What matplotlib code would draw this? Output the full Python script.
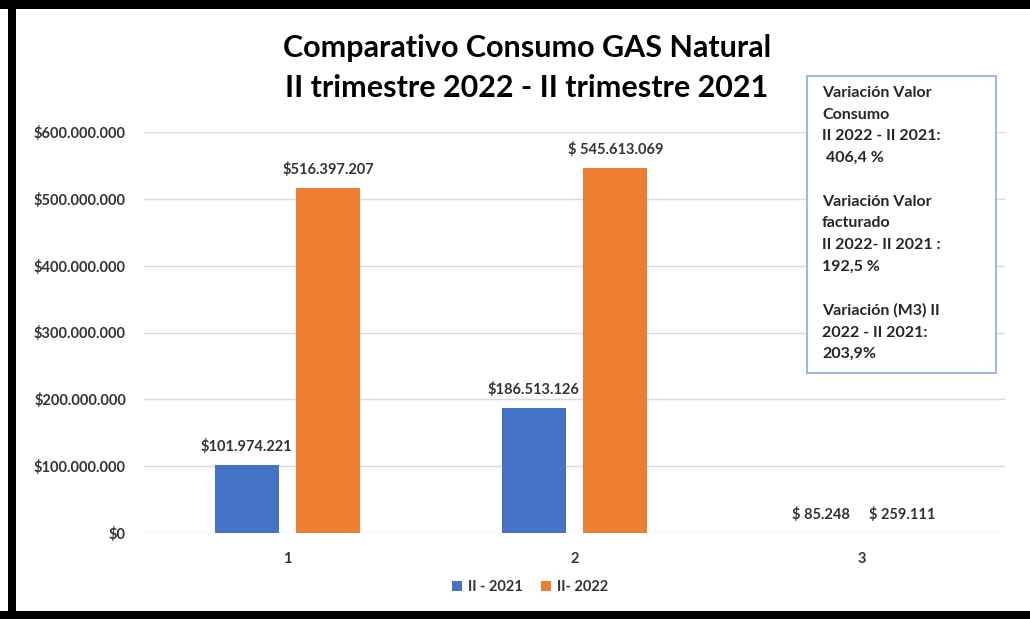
import matplotlib
matplotlib.use("Agg")
import matplotlib.pyplot as plt
from matplotlib.patches import Rectangle
from matplotlib.ticker import FuncFormatter
import numpy as np

# quarterly natural gas consumption values (COP)
categories = ["1", "2", "3"]
series_names = ["II - 2021", "II- 2022"]
values_2021 = [101974221, 186513126, 85248]
values_2022 = [516397207, 545613069, 259111]
labels_2021 = ["$101.974.221", "$186.513.126", "$ 85.248"]
labels_2022 = ["$516.397.207", "$ 545.613.069", "$ 259.111"]
yticks = [0, 100e6, 200e6, 300e6, 400e6, 500e6, 600e6]

title = "Comparativo Consumo GAS Natural\nII trimestre 2022 - II trimestre 2021"
note = ("Variación Valor\nConsumo\nII 2022 - II 2021:\n 406,4 %\n\n"
        "Variación Valor\nfacturado\nII 2022- II 2021 :\n192,5 %\n\n"
        "Variación (M3) II\n2022 - II 2021:\n203,9%")

BLUE = "#4472C4"
ORANGE = "#ED7D31"
TXT = "#333333"
plt.rcParams["font.family"] = ["Lato", "DejaVu Sans"]

W, H = 1030, 619
fig = plt.figure(figsize=(W / 100, H / 100), dpi=100)
fig.patch.set_facecolor("white")


def fx(px):
    return px / W


def fy(py):
    return 1 - py / H


ax = fig.add_axes([fx(144), fy(533), fx(1005) - fx(144), fy(132) - fy(533)])
x = np.arange(len(categories))
off, bw = 0.142, 0.222
b1 = ax.bar(x - off, values_2021, bw, color=BLUE, label=series_names[0], zorder=3)
b2 = ax.bar(x + off, values_2022, bw, color=ORANGE, label=series_names[1], zorder=3)

for bars, labs in [(b1, labels_2021), (b2, labels_2022)]:
    for rect, lab in zip(bars, labs):
        ax.annotate(lab, (rect.get_x() + rect.get_width() / 2, rect.get_height()),
                    xytext=(0, 8), textcoords="offset points", ha="center", va="bottom",
                    fontsize=10.5, fontweight="bold", color=TXT)

ax.set_xlim(-0.5, 2.5)
ax.set_ylim(0, 600e6)
ax.set_yticks(yticks)
ax.yaxis.set_major_formatter(FuncFormatter(lambda v, _: "$" + f"{int(v):,}".replace(",", ".")))
ax.set_xticks(x)
ax.set_xticklabels(categories)
for lab in ax.get_xticklabels() + ax.get_yticklabels():
    lab.set_fontweight("bold")
    lab.set_color(TXT)
    lab.set_fontsize(10.5)
ax.tick_params(length=0, pad=14)
ax.tick_params(axis="y", pad=13)
ax.grid(axis="y", color="#D9D9D9", linewidth=1, zorder=0)
for s in ax.spines.values():
    s.set_visible(False)

fig.text(fx(527), fy(68), title, ha="center", va="center", fontsize=22,
         fontweight="bold", color="black", linespacing=1.5)

leg = fig.legend(handles=[b1, b2], loc="center", bbox_to_anchor=(fx(530), fy(587)),
                 ncol=2, frameon=False, handlelength=0.7, handleheight=0.7,
                 columnspacing=1.2, handletextpad=0.4, fontsize=10.5)
for t in leg.get_texts():
    t.set_fontweight("bold")
    t.set_color(TXT)

fig.patches.append(Rectangle((fx(807), fy(373)), fx(996) - fx(807), fy(76) - fy(373),
                             transform=fig.transFigure, facecolor="white",
                             edgecolor="#8EA9DB", linewidth=1.2, zorder=5))
fig.text(fx(822), fy(86), note, ha="left", va="top", fontsize=11.5, fontweight="bold",
         color="#262626", linespacing=1.7, zorder=6)

# black frame strips along top, left and bottom edges
for (x0, y0, x1, y1) in [(0, 0, W, 9), (8, 0, 16, H), (0, 611, W, H)]:
    fig.patches.append(Rectangle((fx(x0), fy(y1)), fx(x1) - fx(x0), fy(y0) - fy(y1),
                                 transform=fig.transFigure, facecolor="black",
                                 edgecolor="none", zorder=10))

fig.savefig("out.png", dpi=100)
